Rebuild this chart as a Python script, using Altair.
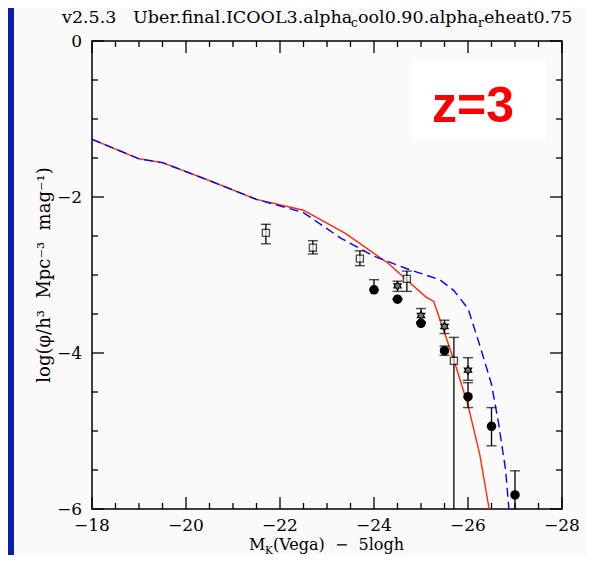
import altair as alt
import pandas as pd

W, H = 470, 468

# ---- model curves ----
red_x = [-18, -19, -19.5, -20.5, -21.5, -22.5, -23.4, -24.3, -25.1, -25.27, -25.7, -26.0, -26.25, -26.45]
red_y = [-1.26, -1.51, -1.56, -1.79, -2.03, -2.17, -2.47, -2.85, -3.28, -3.34, -4.09, -4.67, -5.3, -6.0]
blue_x = [-18, -19, -19.5, -20.5, -21.5, -22.5, -23.3, -24.0, -24.7, -25.4, -25.7, -26.0, -26.25, -26.5, -26.65, -26.8, -26.87]
blue_y = [-1.26, -1.51, -1.56, -1.79, -2.03, -2.2, -2.53, -2.76, -2.92, -3.06, -3.2, -3.43, -3.9, -4.4, -4.9, -5.5, -6.0]

# ---- observational points ----
sq_x = [-21.7, -22.7, -23.7, -24.7, -25.7]
sq_y = [-2.46, -2.65, -2.79, -3.05, -4.10]
sq_lo = [-2.60, -2.73, -2.88, -3.21, -6.6]
sq_hi = [-2.35, -2.56, -2.69, -2.95, -3.80]

ci_x = [-24.0, -24.5, -25.0, -25.5, -26.0, -26.5, -27.0]
ci_y = [-3.19, -3.31, -3.62, -3.97, -4.56, -4.94, -5.82]
ci_lo = [-3.19, -3.31, -3.62, -4.03, -4.70, -5.19, -6.6]
ci_hi = [-3.06, -3.31, -3.62, -3.91, -4.38, -4.70, -5.51]

st_x = [-24.5, -25.0, -25.5, -26.0]
st_y = [-3.14, -3.52, -3.66, -4.22]
st_lo = [-3.21, -3.60, -3.75, -4.35]
st_hi = [-3.08, -3.43, -3.58, -4.06]

# ---- axis ticks and labels ----
x_major = [-18, -20, -22, -24, -26, -28]
x_labels = ["\u221218", "\u221220", "\u221222", "\u221224", "\u221226", "\u221228"]
x_minor = [-18.5, -19, -19.5, -20.5, -21, -21.5, -22.5, -23, -23.5, -24.5, -25, -25.5,
           -26.5, -27, -27.5]
y_major = [0, -2, -4, -6]
y_labels = ["0", "\u22122", "\u22124", "\u22126"]
y_minor = [-0.5, -1, -1.5, -2.5, -3, -3.5, -4.5, -5, -5.5]

# ---- texts ----
NB = "\u00a0"
title_parts = ["v2.5.3" + NB * 3 + "Uber.final.ICOOL3.alpha", "c", "ool0.90.alpha", "r", "eheat0.75"]
xtitle_parts = ["M", "K", "(Vega)" + NB * 2 + "\u2212" + NB * 2 + "5logh"]
ytitle = "log(\u03c6/h\u00b3" + NB * 2 + "Mpc\u207b\u00b3" + NB * 2 + "mag\u207b\u00b9)"
zlabel = "z=3"

SERIF = "DejaVu Serif"

xs = alt.Scale(domain=[-28, -18], reverse=True, nice=False, zero=False)
ys = alt.Scale(domain=[-6, 0], nice=False, zero=False)


def X(f):
    return alt.X(f, type="quantitative", scale=xs, axis=None)


def Y(f):
    return alt.Y(f, type="quantitative", scale=ys, axis=None)


one = pd.DataFrame({"a": [0]})

# blue strip at left
strip = alt.Chart(one).mark_rect(color="#0b1ea8").encode(
    x=alt.value(-84), x2=alt.value(-78), y=alt.value(-33), y2=alt.value(H + 46)
)

# tick labels
xlab = alt.Chart(pd.DataFrame({"v": x_major, "t": x_labels})).mark_text(
    font=SERIF, fontSize=17, color="black", align="center", baseline="alphabetic").encode(
    x=X("v"), y=alt.value(H + 22), text="t:N")
ylabt = alt.Chart(pd.DataFrame({"v": y_major, "t": y_labels})).mark_text(
    font=SERIF, fontSize=17, color="black", align="right", baseline="middle", dy=1).encode(
    y=Y("v"), x=alt.value(-10), text="t:N")


def tick_layers():
    out = []
    dfxM = pd.DataFrame({"v": x_major})
    dfxm = pd.DataFrame({"v": x_minor})
    dfyM = pd.DataFrame({"v": y_major})
    dfym = pd.DataFrame({"v": y_minor})
    for df, L in [(dfxM, 12), (dfxm, 6)]:
        out.append(alt.Chart(df).mark_rule(color="black", strokeWidth=1.3).encode(
            x=X("v"), y=alt.value(H), y2=alt.value(H - L)))
        out.append(alt.Chart(df).mark_rule(color="black", strokeWidth=1.3).encode(
            x=X("v"), y=alt.value(0), y2=alt.value(L)))
    for df, L in [(dfyM, 12), (dfym, 6)]:
        out.append(alt.Chart(df).mark_rule(color="black", strokeWidth=1.3).encode(
            y=Y("v"), x=alt.value(0), x2=alt.value(L)))
        out.append(alt.Chart(df).mark_rule(color="black", strokeWidth=1.3).encode(
            y=Y("v"), x=alt.value(W), x2=alt.value(W - L)))
    return out


red = alt.Chart(pd.DataFrame({"x": red_x, "y": red_y})).mark_line(
    color="#ff2a00", strokeWidth=1.4, clip=True).encode(x=X("x"), y=Y("y"))
blue = alt.Chart(pd.DataFrame({"x": blue_x, "y": blue_y})).mark_line(
    color="#0000ff", strokeWidth=1.4, strokeDash=[9, 5], clip=True).encode(x=X("x"), y=Y("y"))


def err_layers(xv, yv, lo, hi):
    df = pd.DataFrame({"x": xv, "y": yv, "lo": lo, "hi": hi})
    c = alt.Chart(df)
    bar = c.mark_rule(color="black", strokeWidth=1.3, clip=True).encode(x=X("x"), y=Y("lo"), y2="hi")
    cap1 = c.mark_tick(color="black", orient="horizontal", size=10, thickness=1.4, clip=True).encode(x=X("x"), y=Y("lo"))
    cap2 = c.mark_tick(color="black", orient="horizontal", size=10, thickness=1.4, clip=True).encode(x=X("x"), y=Y("hi"))
    return [bar, cap1, cap2], c


sq_err, sq_c = err_layers(sq_x, sq_y, sq_lo, sq_hi)
ci_err, ci_c = err_layers(ci_x, ci_y, ci_lo, ci_hi)
st_err, st_c = err_layers(st_x, st_y, st_lo, st_hi)

sq_pts = sq_c.mark_point(shape="square", size=50, filled=True, fill="#fafafa", stroke="black",
                         strokeWidth=1.3).encode(x=X("x"), y=Y("y"))
ci_pts = ci_c.mark_point(shape="circle", size=90, filled=True, color="black", opacity=1).encode(x=X("x"), y=Y("y"))
STAR = "M0,-1L0.29,-0.5L0.87,-0.5L0.58,0L0.87,0.5L0.29,0.5L0,1L-0.29,0.5L-0.87,0.5L-0.58,0L-0.87,-0.5L-0.29,-0.5Z"
st_pts = st_c.mark_point(shape=STAR, size=70, filled=True, fill="#777777", stroke="black",
                         strokeWidth=1.2, opacity=1).encode(x=X("x"), y=Y("y"))

# z=3 box
zbox = alt.Chart(one).mark_rect(color="white").encode(
    x=alt.value(320), x2=alt.value(453), y=alt.value(19), y2=alt.value(99))
ztext = alt.Chart(pd.DataFrame({"t": [zlabel]})).mark_text(
    font="Liberation Sans", fontWeight="bold", fontSize=50, color="#ff0000",
    align="center", baseline="alphabetic").encode(x=alt.value(381), y=alt.value(81), text="t:N")

# title pieces (x, baseline y, size)
tpos = [(-30, -18, 17.5), (259, -14, 12), (266, -18, 17.5), (386, -14, 12), (392, -18, 17.5)]
title_layers = []
for s, (px, py, fs) in zip(title_parts, tpos):
    title_layers.append(alt.Chart(pd.DataFrame({"t": [s]})).mark_text(
        font=SERIF, fontSize=fs, color="black", align="left", baseline="alphabetic").encode(
        x=alt.value(px), y=alt.value(py), text="t:N"))

# x title pieces
xpos = [(157, 509, 16), (173, 513, 10.5), (181, 509, 16)]
xt_layers = []
for s, (px, py, fs) in zip(xtitle_parts, xpos):
    xt_layers.append(alt.Chart(pd.DataFrame({"t": [s]})).mark_text(
        font=SERIF, fontSize=fs, color="black", align="left", baseline="alphabetic").encode(
        x=alt.value(px), y=alt.value(py), text="t:N"))

ylab = alt.Chart(pd.DataFrame({"t": [ytitle]})).mark_text(
    font=SERIF, fontSize=18, color="black", align="center", baseline="alphabetic", angle=270).encode(
    x=alt.value(-42), y=alt.value(H / 2), text="t:N")

layers = ([strip] + tick_layers() + [xlab, ylabt, red, blue] + sq_err + ci_err + st_err +
          [sq_pts, ci_pts, st_pts, zbox, ztext] + title_layers + xt_layers + [ylab])

chart = alt.layer(*layers).properties(
    width=W, height=H,
    autosize=alt.AutoSizeParams(type="none"),
    padding={"left": 84, "top": 33, "right": 24, "bottom": 46},
    background="#fafafa",
).configure_view(stroke="black", strokeWidth=1.5)

chart.save("out.html", embed_options={"renderer": "svg", "actions": False})
